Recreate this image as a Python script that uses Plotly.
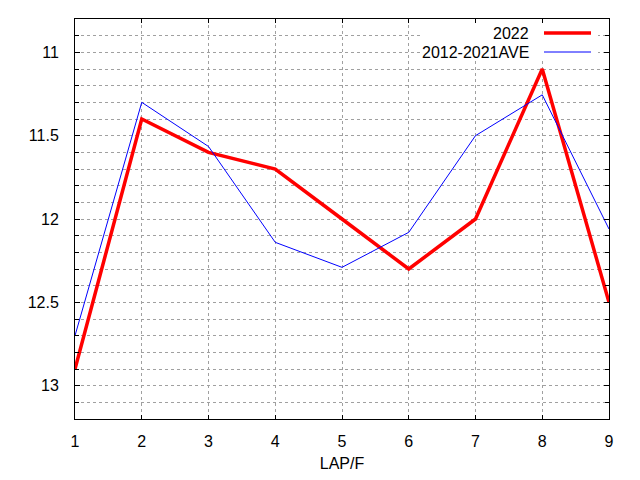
import plotly.graph_objects as go

# data
laps = [1, 2, 3, 4, 5, 6, 7, 8, 9]
y_2022 = [12.9, 11.4, 11.6, 11.7, 12.0, 12.3, 12.0, 11.1, 12.5]
y_ave = [12.70, 11.30, 11.565, 12.14, 12.29, 12.08, 11.50, 11.255, 12.06]
names = ["2022", "2012-2021AVE"]

fig = go.Figure()
fig.add_trace(go.Scatter(x=laps, y=y_2022, mode="lines", name=names[0],
                         line=dict(color="#ff0000", width=3.5)))
fig.add_trace(go.Scatter(x=laps, y=y_ave, mode="lines", name=names[1],
                         line=dict(color="#0000ff", width=1)))

font = dict(family="Liberation Sans, Arial, sans-serif", size=16, color="black")

# page body has 8px margins; keep the figure inside the 640x480 window
fig.update_layout(
    width=624, height=464,
    margin=dict(l=67, r=23, t=11, b=53),
    paper_bgcolor="white", plot_bgcolor="white",
    font=font,
    showlegend=False,
    xaxis=dict(
        range=[1, 9], dtick=1, tick0=1, automargin=False,
        showline=True, linecolor="black", linewidth=1, mirror="ticks",
        ticks="inside", ticklen=4, tickcolor="black",
        showgrid=True, gridcolor="#a0a0a0", griddash="dot", gridwidth=1,
        zeroline=False, ticklabelstandoff=8,
        tickfont=font,
        title=dict(text="LAP/F", standoff=16, font=font),
    ),
    yaxis=dict(
        range=[13.2, 10.8], dtick=0.5, tick0=11, automargin=False,
        showline=True, linecolor="black", linewidth=1, mirror="ticks",
        ticks="inside", ticklen=5, tickcolor="black",
        showgrid=True, gridcolor="#a0a0a0", griddash="dot", gridwidth=1,
        zeroline=False, ticklabelstandoff=12,
        tickfont=font,
        minor=dict(dtick=0.1, ticks="inside", ticklen=4, tickcolor="black",
                   showgrid=True, gridcolor="#a0a0a0", griddash="dot", gridwidth=1),
    ),
)

# gnuplot style key: white box, right-aligned text, then line sample
fig.add_shape(type="rect", xref="paper", yref="paper",
              x0=(422 - 75) / 534, x1=(598 - 75) / 534,
              y0=(419 - 59) / 400, y1=(419 - 23) / 400,
              fillcolor="white", line=dict(width=0), layer="above")
key_y = [33, 52]
colors = ["#ff0000", "#0000ff"]
widths = [3.5, 1]
for name, ky, c, w in zip(names, key_y, colors, widths):
    yp = (419 - ky) / 400
    fig.add_shape(type="line", xref="paper", yref="paper",
                  x0=(544 - 75) / 534, x1=(591 - 75) / 534, y0=yp, y1=yp,
                  line=dict(color=c, width=w), layer="above")
    fig.add_annotation(text=name, xref="paper", yref="paper",
                       x=(531 - 75) / 534, y=yp, xanchor="right", yanchor="middle",
                       showarrow=False, font=font)

fig.write_html("out.html")
